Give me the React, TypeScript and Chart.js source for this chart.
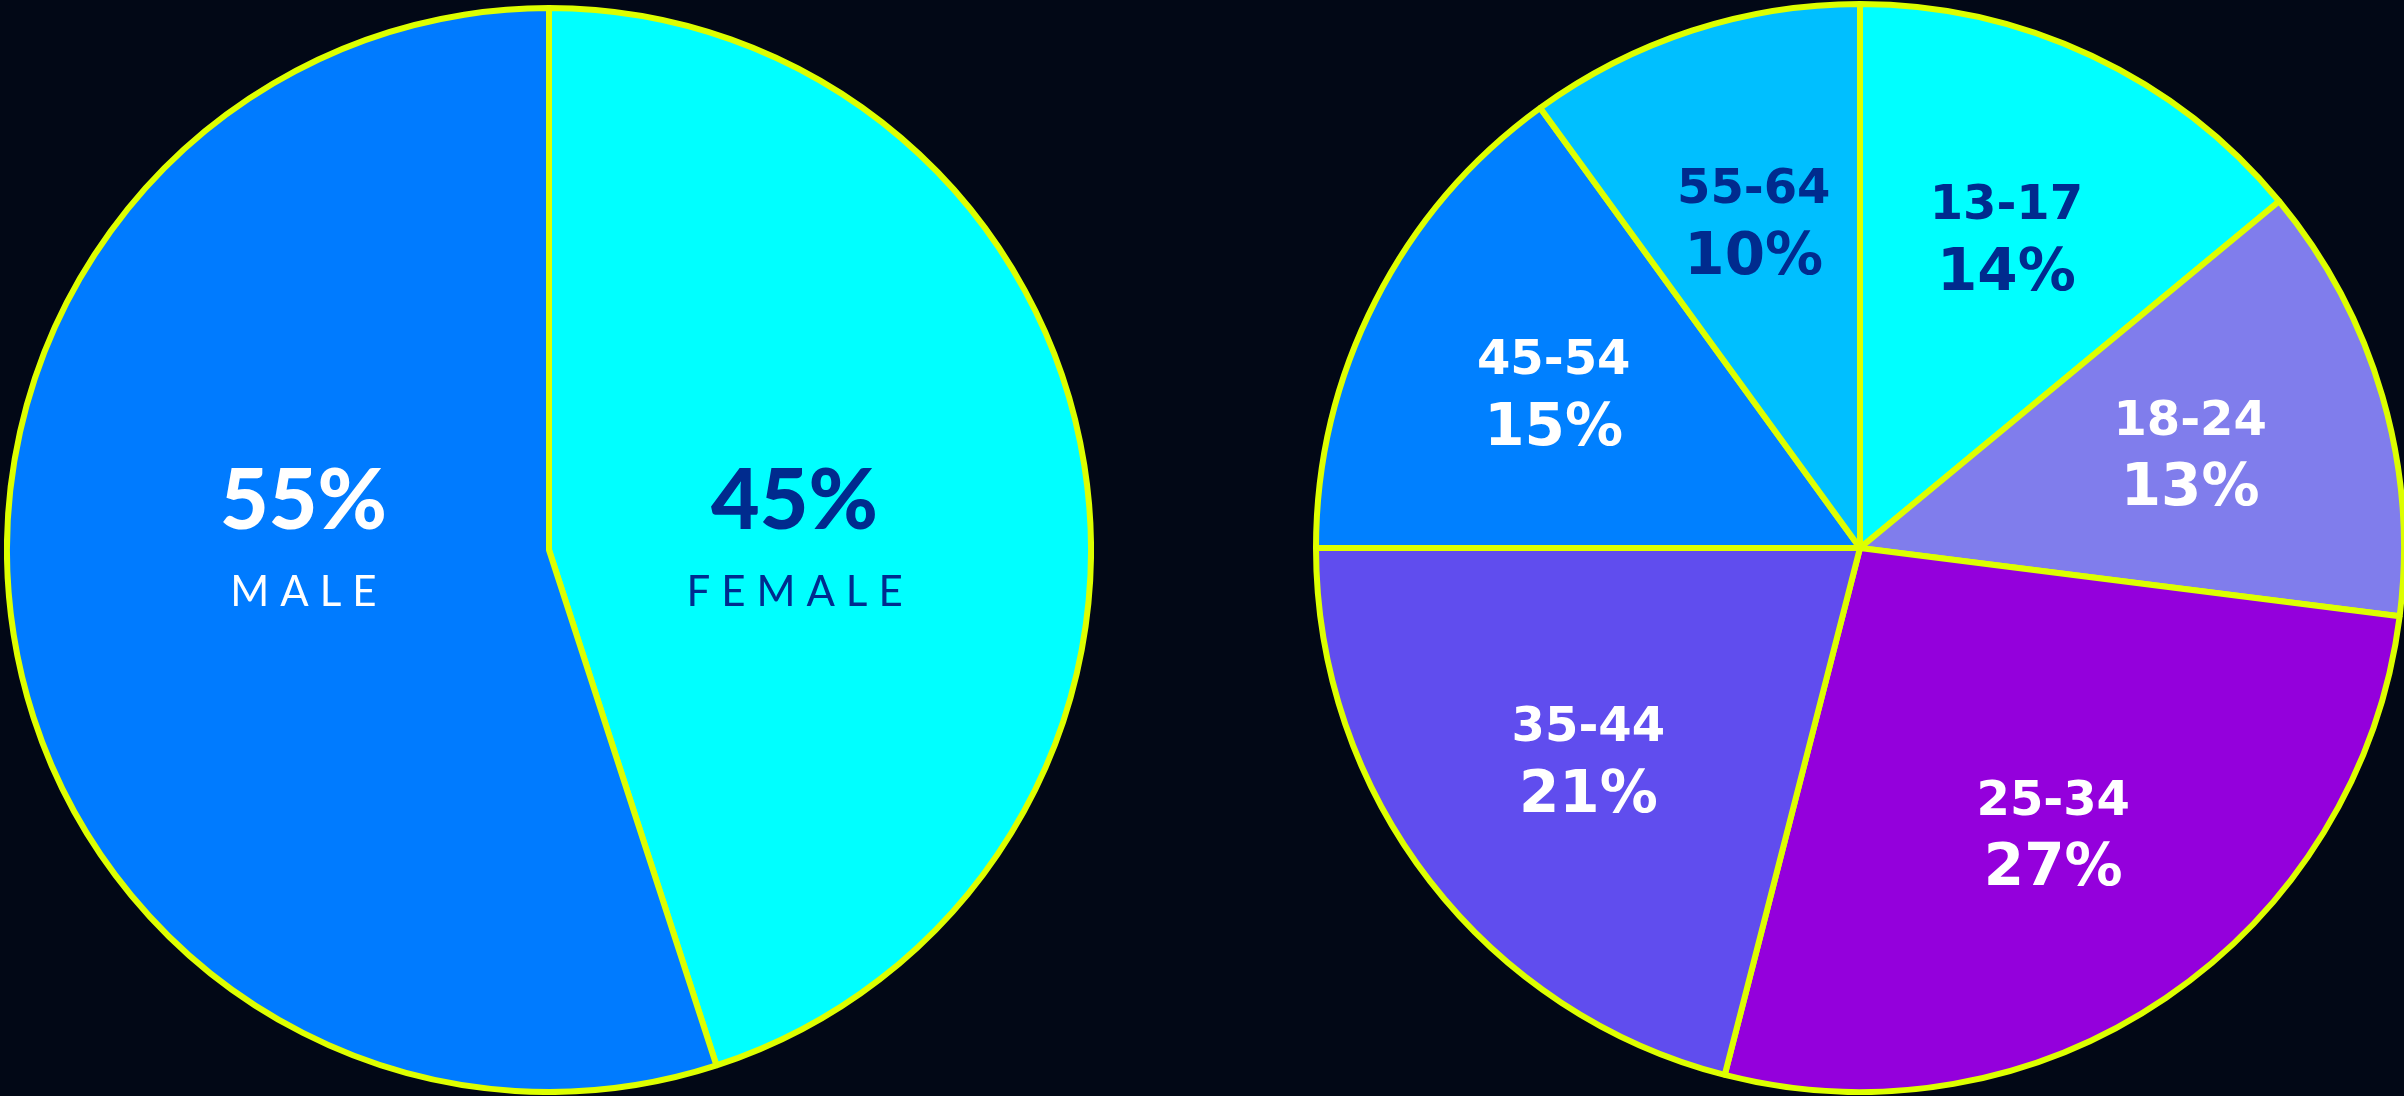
import React, { useEffect, useRef } from "react";
import { Chart, registerables } from "chart.js";

Chart.register(...registerables);

// ---- data ----
const genderLabels = ["FEMALE", "MALE"];
const genderValues = [45, 55];
const genderColors = ["#00FFFF", "#007BFF"];
const genderTextColors = ["#002B8E", "#FFFFFF"];

const ageLabels = ["13-17", "18-24", "25-34", "35-44", "45-54", "55-64"];
const ageValues = [14, 13, 27, 21, 15, 10];
const ageColors = ["#00FFFF", "#807DEC", "#9400DC", "#604DEE", "#0080FF", "#00BFFF"];
const ageTextColors = ["#002B8E", "#FFFFFF", "#FFFFFF", "#FFFFFF", "#FFFFFF", "#002B8E"];

const BORDER = "#DDFF00";
const BG = "#020816";

const labelPlugin = {
  id: "sliceLabels",
  afterDatasetsDraw(chart: any, _args: any, opts: any) {
    const ctx = chart.ctx;
    const meta = chart.getDatasetMeta(0);
    const labels = chart.data.labels as string[];
    const values = chart.data.datasets[0].data as number[];
    meta.data.forEach((arc: any, i: number) => {
      const { x, y, startAngle, endAngle, outerRadius } = arc.getProps(
        ["x", "y", "startAngle", "endAngle", "outerRadius"],
        true
      );
      const mid = (startAngle + endAngle) / 2;
      let cx: number, cy: number;
      if (opts.mode === "horizontal") {
        cx = x + Math.sign(Math.cos(mid)) * opts.factor * outerRadius;
        cy = y;
      } else {
        cx = x + Math.cos(mid) * opts.factor * outerRadius;
        cy = y + Math.sin(mid) * opts.factor * outerRadius;
      }
      ctx.save();
      ctx.fillStyle = opts.colors[i];
      ctx.textAlign = "center";
      ctx.textBaseline = "middle";
      if (opts.mode === "horizontal") {
        ctx.font = opts.pctFont;
        (ctx as any).letterSpacing = "0px";
        ctx.fillText(values[i] + "%", cx, cy + opts.pctDy);
        ctx.font = opts.nameFont;
        (ctx as any).letterSpacing = opts.nameSpacing + "px";
        ctx.fillText(labels[i], cx + opts.nameSpacing / 2, cy + opts.nameDy);
      } else {
        ctx.font = opts.nameFont;
        ctx.fillText(labels[i], cx, cy + opts.nameDy);
        ctx.font = opts.pctFont;
        ctx.fillText(values[i] + "%", cx, cy + opts.pctDy);
      }
      ctx.restore();
    });
  },
};

function PieCanvas(props: {
  labels: string[];
  values: number[];
  colors: string[];
  labelOpts: any;
  size: number;
  left: number;
  top: number;
}) {
  const ref = useRef<HTMLCanvasElement | null>(null);
  useEffect(() => {
    if (!ref.current) return;
    const chart = new Chart(ref.current, {
      type: "pie",
      data: {
        labels: props.labels,
        datasets: [
          {
            data: props.values,
            backgroundColor: props.colors,
            borderColor: BORDER,
            borderWidth: 6,
            hoverOffset: 0,
          },
        ],
      },
      options: {
        responsive: false,
        maintainAspectRatio: false,
        animation: false,
        layout: { padding: 0 },
        plugins: {
          legend: { display: false },
          tooltip: { enabled: false },
          sliceLabels: props.labelOpts,
        } as any,
        events: [],
      },
      plugins: [labelPlugin],
    });
    return () => chart.destroy();
  }, []);
  return (
    <canvas
      ref={ref}
      width={props.size}
      height={props.size}
      style={{
        position: "absolute",
        left: props.left,
        top: props.top,
        width: props.size,
        height: props.size,
      }}
    />
  );
}

export default function App() {
  return (
    <div
      style={{
        position: "absolute",
        left: 0,
        top: 0,
        width: 2404,
        height: 1096,
        overflow: "hidden",
        background: BG,
      }}
    >
      <PieCanvas
        labels={genderLabels}
        values={genderValues}
        colors={genderColors}
        size={1090}
        left={4}
        top={5}
        labelOpts={{
          mode: "horizontal",
          factor: 0.453,
          colors: genderTextColors,
          pctFont: "900 84px Lato",
          nameFont: "400 42px Lato",
          nameSpacing: 11,
          pctDy: -48,
          nameDy: 42,
        }}
      />
      <PieCanvas
        labels={ageLabels}
        values={ageValues}
        colors={ageColors}
        size={1094}
        left={1313}
        top={1}
        labelOpts={{
          mode: "radial",
          factor: 0.632,
          colors: ageTextColors,
          nameFont: "bold 48px 'DejaVu Sans'",
          pctFont: "bold 58px 'DejaVu Sans'",
          pctDy: 38,
          nameDy: -30,
        }}
      />
    </div>
  );
}
